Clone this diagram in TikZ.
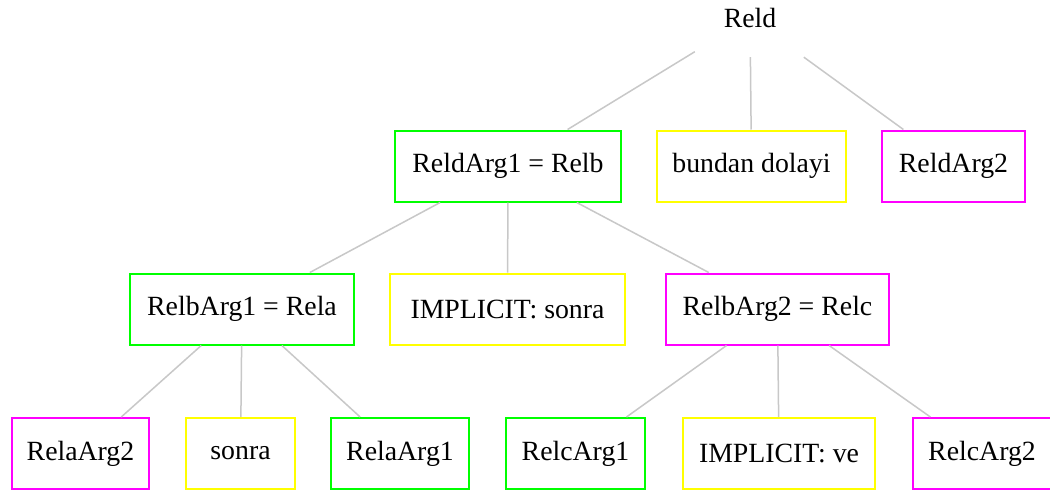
\documentclass[tikz,border=0pt]{standalone}
\usepackage{fontspec}
\setmainfont{Liberation Serif}
\begin{document}
\begin{tikzpicture}[x=1pt,y=-1pt,
  every node/.style={font=\fontsize{27.8}{33}\selectfont, inner sep=0pt, align=center},
  relbox/.style={draw, line width=2pt, minimum height=71pt},
  arg1/.style={relbox, draw={rgb,255:red,0;green,255;blue,0}},
  conn/.style={relbox, draw={rgb,255:red,255;green,255;blue,0}},
  arg2/.style={relbox, draw={rgb,255:red,255;green,0;blue,255}},
  link/.style={draw={rgb,255:red,200;green,200;blue,200}, line width=1.5pt}]
\useasboundingbox (0,0) rectangle (1050,493);
\fill[white] (0,0) rectangle (1050,493);

% root relation
\node[minimum width=110pt, minimum height=78pt] (reld) at (750,18) {Reld};

% first level
\node[arg1, minimum width=226pt] (reldarg1) at (508,166) {ReldArg1 = Relb};
\node[conn, minimum width=189pt] (bundan) at (751.5,166) {bundan dolayi};
\node[arg2, minimum width=143pt] (reldarg2) at (953.5,166) {ReldArg2};

% second level
\node[arg1, minimum width=224pt] (relbarg1) at (242,309) {RelbArg1 = Rela};
\node[conn, minimum width=235pt] (implsonra) at (507.5,309) {IMPLICIT: sonra};
\node[arg2, minimum width=223pt] (relbarg2) at (777.5,309) {RelbArg2 = Relc};

% third level
\node[arg2, minimum width=137pt] (relaarg2) at (80.5,453.5) {RelaArg2};
\node[conn, minimum width=109pt] (sonra) at (240.5,453.5) {sonra};
\node[arg1, minimum width=138pt] (relaarg1) at (400,453.5) {RelaArg1};
\node[arg1, minimum width=139pt] (relcarg1) at (575.5,453.5) {RelcArg1};
\node[conn, minimum width=192pt] (implve) at (779,453.5) {IMPLICIT: ve};
\node[arg2, minimum width=138pt] (relcarg2) at (982,453.5) {RelcArg2};

% tree edges
\path[link] (reld) -- (reldarg1);
\path[link] (reld) -- (bundan);
\path[link] (reld) -- (reldarg2);
\path[link] (reldarg1) -- (relbarg1);
\path[link] (reldarg1) -- (implsonra);
\path[link] (reldarg1) -- (relbarg2);
\path[link] (relbarg1) -- (relaarg2);
\path[link] (relbarg1) -- (sonra);
\path[link] (relbarg1) -- (relaarg1);
\path[link] (relbarg2) -- (relcarg1);
\path[link] (relbarg2) -- (implve);
\path[link] (relbarg2) -- (relcarg2);
\end{tikzpicture}
\end{document}
